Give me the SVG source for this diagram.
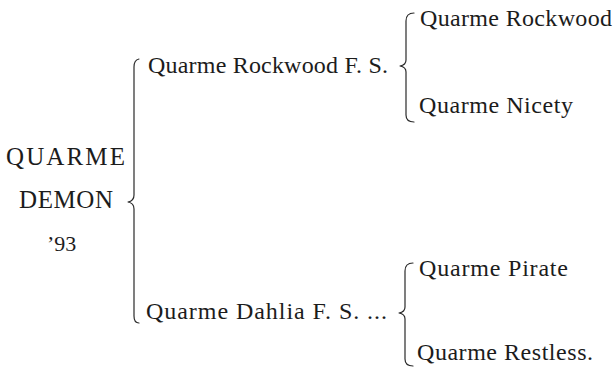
<svg xmlns="http://www.w3.org/2000/svg" width="615" height="372" viewBox="0 0 615 372">
<style>
.t{font-family:"Liberation Serif","Times New Roman",serif;font-size:24px;fill:#1c1c1c}
.c{font-size:25px}
.n{font-size:22px}
.b{fill:none;stroke:#2a2a2a;stroke-width:1.2;stroke-linecap:round;stroke-linejoin:round}
</style>
<rect width="615" height="372" fill="#ffffff"/>
<g id="connectors">
<path class="b" d="M139 59 Q134 60 134 67 L134 195 Q134 201 128 202 Q134 203 134 209 L134 316 Q134 323 139 323"/>
<path class="b" d="M414 13 Q406 13 406 21 L406 60 Q406 65 400 66 Q406 67 406 72 L406 115 Q406 122 414 122"/>
<path class="b" d="M413 263 Q405 263 405 271 L405 307 Q405 312 399 313 Q405 314 405 319 L405 359 Q405 366 413 366"/>
</g>
<g id="node-demon">
<text class="t c" x="6" y="165" textLength="119" lengthAdjust="spacing">QUARME</text>
<text class="t c" x="19" y="208" textLength="94" lengthAdjust="spacing">DEMON</text>
<text class="t n" x="47" y="251">’93</text>
</g>
<g id="node-rockwood-fs">
<text class="t" x="148" y="73" textLength="240" lengthAdjust="spacing">Quarme Rockwood F. S.</text>
</g>
<g id="node-dahlia-fs">
<text class="t" x="146" y="319" textLength="241" lengthAdjust="spacing">Quarme Dahlia F. S. ...</text>
</g>
<g id="node-rockwood">
<text class="t" x="420" y="26" textLength="192" lengthAdjust="spacing">Quarme Rockwood</text>
</g>
<g id="node-nicety">
<text class="t" x="419" y="113" textLength="154" lengthAdjust="spacing">Quarme Nicety</text>
</g>
<g id="node-pirate">
<text class="t" x="419" y="276" textLength="149" lengthAdjust="spacing">Quarme Pirate</text>
</g>
<g id="node-restless">
<text class="t" x="417" y="360" textLength="176" lengthAdjust="spacing">Quarme Restless.</text>
</g>
</svg>
